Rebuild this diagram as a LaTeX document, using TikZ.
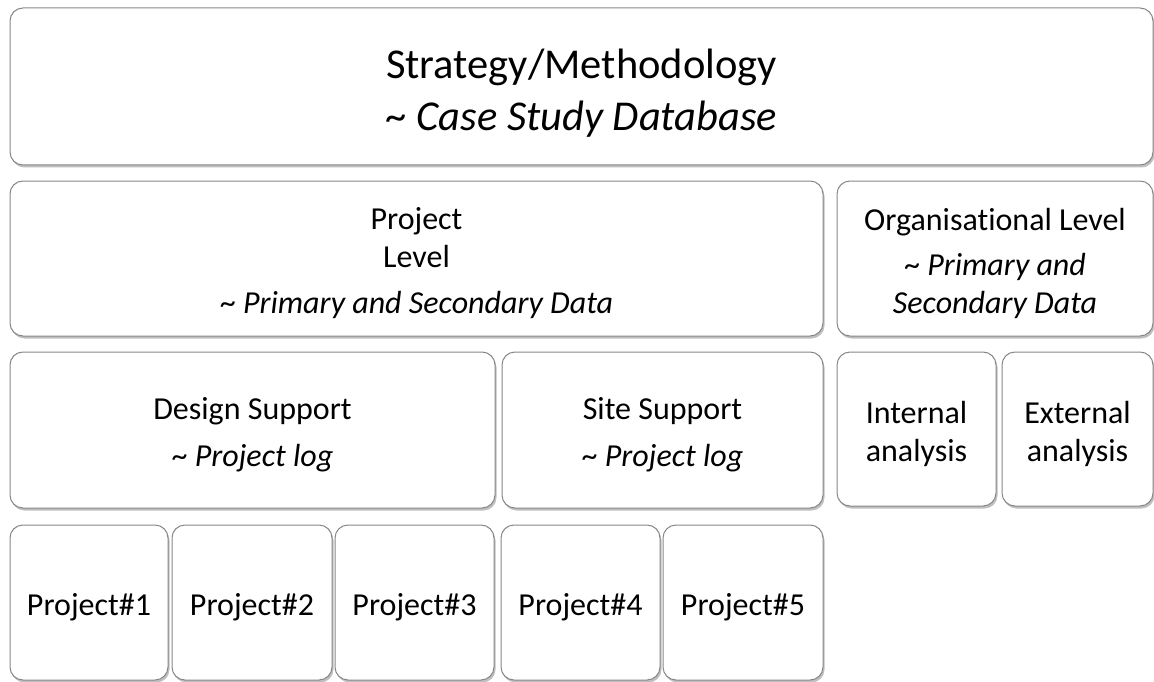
\documentclass[tikz,border=0pt]{standalone}
\usepackage{fontspec}
\setmainfont{Carlito}[Ligatures=NoCommon]
\usetikzlibrary{shadows}

\definecolor{boxline}{RGB}{135,135,135}
% extra room above the first line of a box
\newcommand{\boxlift}{\rule{0pt}{1em}}

\tikzset{
  blk/.style={draw=boxline, line width=1pt, fill=white, rounded corners=13pt,
    inner sep=0pt, outer sep=0pt, align=center,
    drop shadow={shadow xshift=1.5pt, shadow yshift=-2.5pt, fill=black, opacity=0.25},
    font=\fontsize{32}{38}\selectfont},
  big/.style={font=\fontsize{42.5}{52}\selectfont}
}

\begin{document}
\begin{tikzpicture}[x=1pt, y=-1pt]
\useasboundingbox (0,0) rectangle (1154,682);

% top level
\node[blk, big, minimum width=1143pt, minimum height=157pt] (strategy) at (581.5, 86.5)
  {\boxlift Strategy/Methodology\\ \textasciitilde\ \textit{Case Study Database}};

% second row
\node[blk, minimum width=813pt, minimum height=155pt] (projlevel) at (416.5, 258.5)
  {\boxlift Project\\ Level\\[8pt] \textasciitilde\ \textit{Primary and Secondary Data}};
\node[blk, minimum width=316pt, minimum height=155pt] (orglevel) at (995, 258.5)
  {\boxlift Organisational Level\\[7pt] \textasciitilde\ \textit{Primary and}\\ \textit{Secondary Data}};

% third row
\node[blk, minimum width=485pt, minimum height=156pt] (design) at (252.5, 430)
  {\boxlift Design Support\\[9pt] \textasciitilde\ \textit{Project log}};
\node[blk, minimum width=321pt, minimum height=156pt] (site) at (662.5, 430)
  {\boxlift Site Support\\[9pt] \textasciitilde\ \textit{Project log}};
\node[blk, minimum width=159pt, minimum height=154pt] (internal) at (916.5, 429)
  {\boxlift Internal\\ analysis};
\node[blk, minimum width=151pt, minimum height=154pt] (external) at (1077.5, 429)
  {\boxlift External\\ analysis};

% projects
\node[blk, minimum width=158pt, minimum height=155pt] (proj1) at (89, 602.5) {\boxlift Project\#1};
\node[blk, minimum width=160pt, minimum height=155pt] (proj2) at (252, 602.5) {\boxlift Project\#2};
\node[blk, minimum width=159pt, minimum height=155pt] (proj3) at (414.5, 602.5) {\boxlift Project\#3};
\node[blk, minimum width=159pt, minimum height=155pt] (proj4) at (580.5, 602.5) {\boxlift Project\#4};
\node[blk, minimum width=160pt, minimum height=155pt] (proj5) at (743, 602.5) {\boxlift Project\#5};

\end{tikzpicture}
\end{document}
